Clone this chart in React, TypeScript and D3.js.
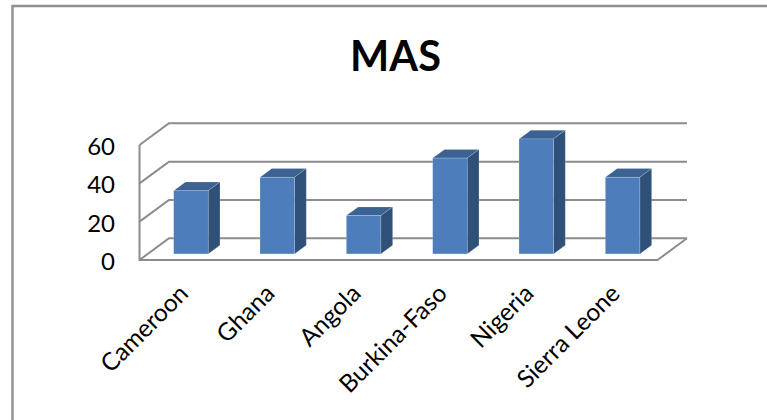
import React from "react";
import * as d3 from "d3";

const categories = ["Cameroon", "Ghana", "Angola", "Burkina-Faso", "Nigeria", "Sierra Leone"];
const masValues = [33, 40, 20, 50, 60, 40];
const yTicks = [0, 20, 40, 60];
const titleText = "MAS";

const W = 767, H = 420;
const FRONT_L = 139.5, FRONT_R = 657.5, FRONT_Y0 = 260, FRONT_Y60 = 145;
const DX = 29.5, DY = -21.7;
const x = d3.scaleBand<string>().domain(categories).range([FRONT_L, FRONT_R]);
const y = d3.scaleLinear().domain([0, 60]).range([FRONT_Y0, FRONT_Y60]);
const FONT = "Lato, 'Noto Sans', sans-serif";
const GRID = "#8c8c8c";

function pts(p: [number, number][]) { return p.map((a) => a.join(",")).join(" "); }

export default function App() {
  const barW = 34.5, off = 0.28, depth = 0.4;
  return (
    <svg width={W} height={H} style={{ position: "absolute", left: 0, top: 0, background: "#fff" }}>
      <path d="M12.5,420V6H767" fill="none" stroke="#8f8f8f" strokeWidth={2.4} />
      <text x={395.5} y={71} textAnchor="middle" fontFamily={FONT} fontWeight={700} fontSize={41.5} fill="#000">{titleText}</text>
      {yTicks.map((t) => (
        <g key={t}>
          <polyline points={pts([[FRONT_L, y(t)], [FRONT_L + DX, y(t) + DY], [FRONT_R + DX, y(t) + DY]])} fill="none" stroke={GRID} strokeWidth={2} />
          <text x={115} y={y(t) + 10} textAnchor="end" fontFamily={FONT} fontSize={24} fill="#000">{t}</text>
        </g>
      ))}
      <polyline points={pts([[FRONT_L, y(60)], [FRONT_L, y(0)], [FRONT_R, y(0)], [FRONT_R + DX, y(0) + DY]])} fill="none" stroke={GRID} strokeWidth={2} />
      {categories.map((c, i) => {
        const cx = x(c)! + x.bandwidth() / 2 + off * DX;
        const x0 = cx - barW / 2, x1 = cx + barW / 2;
        const bottom = y(0) + off * DY;
        const top = bottom - (y(0) - y(masValues[i]));
        const ddx = depth * DX, ddy = depth * DY;
        return (
          <g key={c}>
            <polygon points={pts([[x0, top], [x0 + ddx, top + ddy], [x1 + ddx, top + ddy], [x1, top]])} fill="#3b6292" stroke="#fff" strokeOpacity={0.35} strokeWidth={0.5} />
            <polygon points={pts([[x1, top], [x1 + ddx, top + ddy], [x1 + ddx, bottom + ddy], [x1, bottom]])} fill="#2f5078" stroke="#fff" strokeOpacity={0.35} strokeWidth={0.5} />
            <rect x={x0} y={top} width={barW} height={bottom - top} fill="#4d7ebb" stroke="#fff" strokeOpacity={0.35} strokeWidth={0.5} />
          </g>
        );
      })}
      {categories.map((c) => {
        const ax = x(c)! + x.bandwidth() / 2 + 7;
        return (
          <text key={c} transform={`translate(${ax},${295}) rotate(-45)`} textAnchor="end" fontFamily={FONT} fontSize={24.5} fill="#000">{c}</text>
        );
      })}
    </svg>
  );
}
